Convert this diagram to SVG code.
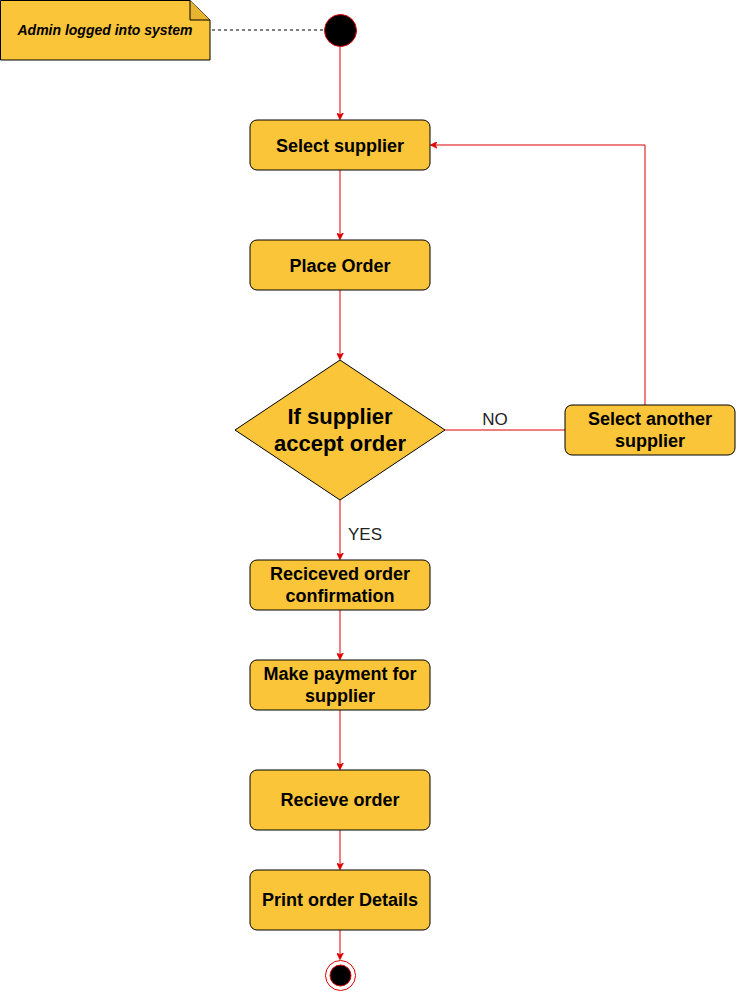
<svg xmlns="http://www.w3.org/2000/svg" width="737" height="992" viewBox="0 0 737 992">
<defs>
<style>
.box{fill:#FAC538;stroke:#000;stroke-width:1}
.lbl{font-family:"Liberation Sans",Arial,sans-serif;font-weight:bold;font-size:18px;fill:#000;text-anchor:middle}
.edge{fill:none;stroke:#E00000;stroke-width:1}
.etxt{font-family:"Liberation Sans",Arial,sans-serif;font-size:17px;fill:#222;text-anchor:middle}
</style>
<marker id="arr" viewBox="0 0 10 10" refX="9" refY="5" markerWidth="7" markerHeight="7" orient="auto" markerUnits="userSpaceOnUse">
<path d="M0,0 L10,5 L0,10 L3,5 Z" fill="#E00000" stroke="#E00000"/>
</marker>
</defs>
<rect width="737" height="992" fill="#fff"/>
<g id="connectors">
<line x1="212" y1="30" x2="323" y2="30" stroke="#000" stroke-dasharray="3,3"/>
<path class="edge" d="M340,47 L340,119" marker-end="url(#arr)"/>
<path class="edge" d="M340,170 L340,239" marker-end="url(#arr)"/>
<path class="edge" d="M340,290 L340,359" marker-end="url(#arr)"/>
<path class="edge" d="M445,430 L565,430"/>
<path class="edge" d="M645,405 L645,145 L431,145" marker-end="url(#arr)"/>
<path class="edge" d="M340,500 L340,559" marker-end="url(#arr)"/>
<path class="edge" d="M340,610 L340,659" marker-end="url(#arr)"/>
<path class="edge" d="M340,710 L340,769" marker-end="url(#arr)"/>
<path class="edge" d="M340,830 L340,869" marker-end="url(#arr)"/>
<path class="edge" d="M340,930 L340,959" marker-end="url(#arr)"/>
<rect x="478" y="410" width="34" height="18" fill="#fff"/>
<text class="etxt" x="495" y="425">NO</text>
<text class="etxt" x="365" y="540">YES</text>
</g>
<g id="note">
<path class="box" d="M0.5,0.5 L190,0.5 L210,20 L210,60 L0.5,60 Z"/>
<path d="M190,0.5 L190,20 L210,20" fill="#E6B430" stroke="#000"/>
<text x="105" y="35" style="font-family:'Liberation Sans',Arial,sans-serif;font-size:14px;font-weight:bold;font-style:italic;text-anchor:middle">Admin logged into system</text>
</g>
<g id="start"><circle cx="340.5" cy="30.5" r="16" fill="#000" stroke="#E00000"/></g>
<g id="select-supplier"><rect class="box" x="250" y="120" width="180" height="50" rx="7"/><text class="lbl" x="340" y="152">Select supplier</text></g>
<g id="place-order"><rect class="box" x="250" y="240" width="180" height="50" rx="7"/><text class="lbl" x="340" y="272">Place Order</text></g>
<g id="decision"><path class="box" d="M340,360 L445,430 L340,500 L235,430 Z"/>
<text class="lbl" x="340" y="424" style="font-size:22px">If supplier</text>
<text class="lbl" x="340" y="451" style="font-size:22px">accept order</text></g>
<g id="select-another"><rect class="box" x="565" y="405" width="170" height="50" rx="7"/><text class="lbl" x="650" y="425">Select another</text><text class="lbl" x="650" y="447">supplier</text></g>
<g id="received"><rect class="box" x="250" y="560" width="180" height="50" rx="7"/><text class="lbl" x="340" y="580">Reciceved order</text><text class="lbl" x="340" y="602">confirmation</text></g>
<g id="payment"><rect class="box" x="250" y="660" width="180" height="50" rx="7"/><text class="lbl" x="340" y="680">Make payment for</text><text class="lbl" x="340" y="702">supplier</text></g>
<g id="recieve-order"><rect class="box" x="250" y="770" width="180" height="60" rx="7"/><text class="lbl" x="340" y="806">Recieve order</text></g>
<g id="print"><rect class="box" x="250" y="870" width="180" height="60" rx="7"/><text class="lbl" x="340" y="906">Print order Details</text></g>
<g id="end"><circle cx="340.5" cy="975.5" r="15" fill="#fff" stroke="#E00000"/><circle cx="340.5" cy="975.5" r="10.5" fill="#000" stroke="#E00000"/></g>
</svg>
